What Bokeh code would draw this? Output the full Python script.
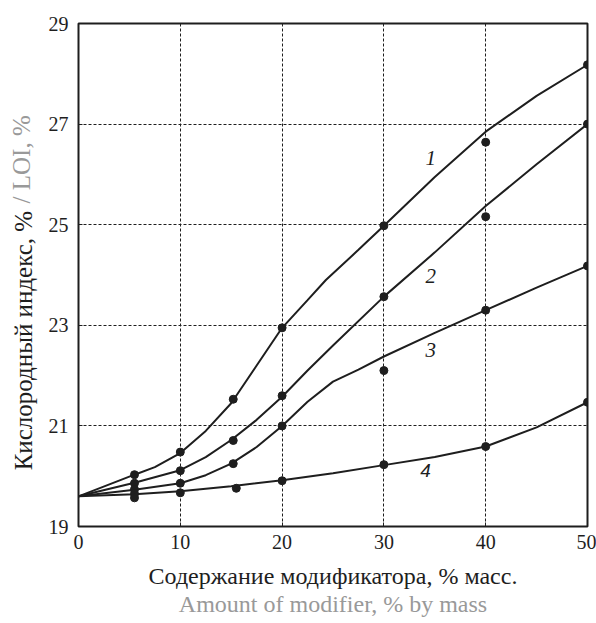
from bokeh.plotting import figure
from bokeh.models import FixedTicker, Label, Range1d, LinearAxis
from bokeh.embed import file_html
from bokeh.resources import INLINE

# ---- data ----
x_ticks = [0, 10, 20, 30, 40, 50]
y_ticks = [19, 21, 23, 25, 27, 29]

# fitted curves
c1_lx = [0, 5.5, 7.5, 10, 12.5, 15, 17.5, 20, 22.5, 24.3, 27.5, 30, 35, 40, 45, 50]
c1_ly = [19.6, 20.03, 20.18, 20.46, 20.9, 21.45, 22.2, 22.95, 23.5, 23.9, 24.5, 24.98, 25.95, 26.85, 27.56, 28.18]
c2_lx = [0, 5.5, 10, 12.5, 15, 17.5, 20, 22.5, 25, 30, 35, 40, 45, 50]
c2_ly = [19.6, 19.87, 20.12, 20.38, 20.72, 21.12, 21.58, 22.1, 22.6, 23.57, 24.45, 25.37, 26.2, 27.0]
c3_lx = [0, 5.5, 10, 12.5, 15, 17.5, 20, 22.5, 25, 27.5, 30, 35, 40, 45, 50]
c3_ly = [19.6, 19.73, 19.86, 20.02, 20.25, 20.58, 21.0, 21.48, 21.88, 22.12, 22.38, 22.85, 23.3, 23.75, 24.18]
c4_lx = [0, 5.5, 10, 15, 20, 25, 30, 35, 40, 45, 50]
c4_ly = [19.6, 19.64, 19.7, 19.8, 19.92, 20.06, 20.22, 20.38, 20.59, 20.97, 21.47]

# measured points
c1_px = [5.5, 10, 15.2, 20, 30, 40, 50]
c1_py = [20.03, 20.48, 21.53, 22.95, 24.98, 26.64, 28.18]
c2_px = [5.5, 10, 15.2, 20, 30, 40, 50]
c2_py = [19.86, 20.11, 20.71, 21.6, 23.57, 25.16, 27.0]
c3_px = [5.5, 10, 15.2, 20, 30, 40, 50]
c3_py = [19.74, 19.86, 20.25, 21.0, 22.1, 23.3, 24.18]
c4_px = [5.5, 5.5, 10, 15.5, 20, 30, 40, 50]
c4_py = [19.65, 19.57, 19.67, 19.76, 19.91, 20.23, 20.59, 21.47]

curve_names = ["1", "2", "3", "4"]

x_title_ru = "Содержание модификатора, % масс."
x_title_en = "Amount of modifier, % by mass"
y_title_ru = "Кислородный индекс, %"
y_title_en = "/ LOI, %"

INK = "#1e1e1e"
GRAY = "#999999"
SERIF = "Liberation Serif"
NBSP = "\u00a0"

p = figure(width=596, height=623, output_backend="svg", toolbar_location=None,
           x_range=Range1d(0, 50), y_range=Range1d(19, 29),
           min_border_left=78, min_border_right=9, min_border_top=23,
           min_border_bottom=97)
p.background_fill_color = "white"
p.border_fill_color = "white"
p.outline_line_color = INK
p.outline_line_width = 2

for ax, ticks in ((p.xaxis, x_ticks), (p.yaxis, y_ticks)):
    ax.ticker = FixedTicker(ticks=ticks)
    ax.axis_line_color = None
    ax.major_tick_in = 4
    ax.major_tick_out = 0
    ax.major_tick_line_color = INK
    ax.minor_tick_line_color = None
    ax.major_label_text_font = SERIF
    ax.major_label_text_font_size = "20px"
    ax.major_label_text_color = INK
p.xaxis.major_label_standoff = 8
p.yaxis.major_label_standoff = 10

# x titles: Russian on main axis, English on an extra tickless axis below
p.xaxis.axis_label = x_title_ru
p.xaxis.axis_label_text_font = SERIF
p.xaxis.axis_label_text_font_size = "24px"
p.xaxis.axis_label_text_font_style = "normal"
p.xaxis.axis_label_text_color = INK
p.xaxis.axis_label_standoff = 11


def title_axis(label, color, standoff, size="24px"):
    ax = LinearAxis(ticker=FixedTicker(ticks=[]), axis_label=label)
    ax.axis_line_color = None
    ax.major_tick_line_color = None
    ax.minor_tick_line_color = None
    ax.major_tick_out = 0
    ax.major_tick_in = 0
    ax.axis_label_text_font = SERIF
    ax.axis_label_text_font_size = size
    ax.axis_label_text_font_style = "normal"
    ax.axis_label_text_color = color
    ax.axis_label_standoff = standoff
    return ax


p.add_layout(title_axis(x_title_en, GRAY, -1), "below")

# y title: black and grey parts on one line (two tickless axes in the same column,
# shifted along the axis with non-breaking-space padding)
p.add_layout(title_axis(y_title_ru + NBSP * 21, INK, 9, "25px"), "left")
p.add_layout(title_axis(NBSP * 37 + y_title_en, GRAY, -28, "25px"), "left")

p.xgrid.ticker = FixedTicker(ticks=[10, 20, 30, 40])
p.ygrid.ticker = FixedTicker(ticks=[21, 23, 25, 27])
for g in (p.xgrid, p.ygrid):
    g.grid_line_color = INK
    g.grid_line_dash = "3 2"
    g.grid_line_width = 1

for lx, ly in ((c1_lx, c1_ly), (c2_lx, c2_ly), (c3_lx, c3_ly), (c4_lx, c4_ly)):
    p.line(lx, ly, line_color=INK, line_width=2)
for px, py in ((c1_px, c1_py), (c2_px, c2_py), (c3_px, c3_py), (c4_px, c4_py)):
    p.scatter(px, py, size=8, fill_color=INK, line_color=INK)

# curve labels
lab_pos = [(34.6, 26.32), (34.6, 23.99), (34.6, 22.5), (34.1, 20.11)]
for name, (lx, ly) in zip(curve_names, lab_pos):
    p.add_layout(Label(x=lx, y=ly, text=name,
                       text_font=SERIF if name != "4" else "Liberation Sans",
                       text_font_style="italic",
                       text_font_size="21px" if name != "4" else "19px",
                       text_color=INK, text_align="center", text_baseline="middle"))

open("out.html", "w").write(file_html(p, INLINE))
